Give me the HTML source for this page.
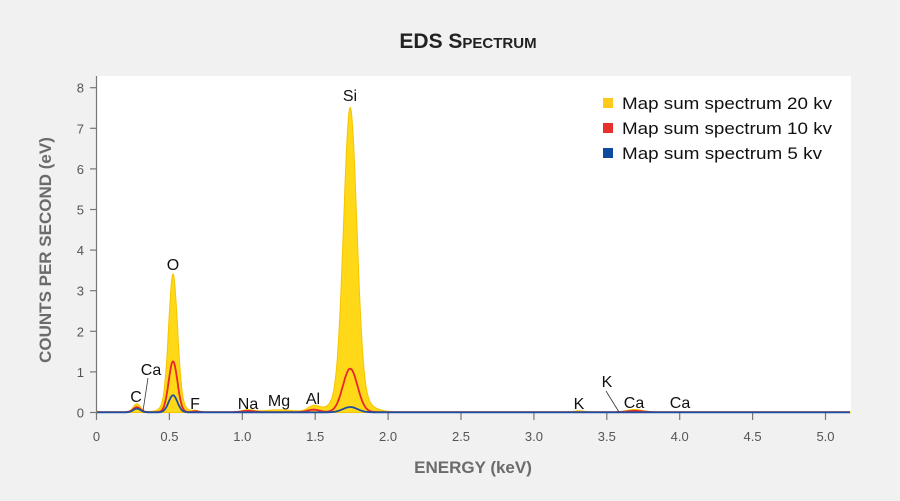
<!DOCTYPE html>
<html><head><meta charset="utf-8"><style>
body{margin:0;background:#f1f1f2;}
svg{display:block;font-family:"Liberation Sans",sans-serif;}
</style></head><body>
<svg id="s" width="900" height="501" viewBox="0 0 900 501">
<rect width="900" height="501" fill="#f1f1f2"/>
<rect x="97" y="76" width="754" height="337" fill="#fff"/>
<text x="468" y="48" text-anchor="middle" font-size="21" font-weight="bold" fill="#222" style="font-variant:small-caps">EDS Spectrum</text>
<text transform="translate(51,250) rotate(-90)" text-anchor="middle" font-size="17" font-weight="bold" fill="#6b6b6b">COUNTS PER SECOND (eV)</text>
<text x="473" y="473" text-anchor="middle" font-size="17" font-weight="bold" fill="#6b6b6b">ENERGY (keV)</text>
<g id="ax" stroke="#777" stroke-width="1.2" fill="none"></g>
<g id="tl" font-size="13" fill="#555"></g>
<path id="p20" fill="#ffd917" stroke="#f5c400" stroke-width="1"/>
<path id="p10" fill="none" stroke="#e8262b" stroke-width="1.8"/>
<path id="p5" fill="none" stroke="#1f4fa0" stroke-width="1.8"/>
<g font-size="16" fill="#111">
<text x="173" y="270" text-anchor="middle">O</text>
<text x="350" y="101" text-anchor="middle">Si</text>
<text x="136" y="402" text-anchor="middle">C</text>
<text x="151" y="375" text-anchor="middle">Ca</text>
<text x="195" y="409" text-anchor="middle">F</text>
<text x="248" y="409" text-anchor="middle">Na</text>
<text x="279" y="406" text-anchor="middle">Mg</text>
<text x="313" y="404" text-anchor="middle">Al</text>
<text x="579" y="409" text-anchor="middle">K</text>
<text x="607" y="387" text-anchor="middle">K</text>
<text x="634" y="408" text-anchor="middle">Ca</text>
<text x="680" y="408" text-anchor="middle">Ca</text>
<text x="622" y="109" font-size="17" textLength="210" lengthAdjust="spacingAndGlyphs">Map sum spectrum 20 kv</text>
<text x="622" y="134" font-size="17" textLength="210" lengthAdjust="spacingAndGlyphs">Map sum spectrum 10 kv</text>
<text x="622" y="159" font-size="17" textLength="200" lengthAdjust="spacingAndGlyphs">Map sum spectrum 5 kv</text>
</g>
<line x1="148" y1="378" x2="143" y2="411" stroke="#333" stroke-width="0.8"/>
<line x1="606" y1="391" x2="619" y2="412" stroke="#333" stroke-width="0.8"/>
<rect x="603" y="98" width="10" height="10" fill="#ffc91a"/>
<rect x="603" y="123" width="10" height="10" fill="#e8312b"/>
<rect x="603" y="148" width="10" height="10" fill="#0d4aa0"/>
</svg>
<script>
var X=e=>96.5+e*145.8, Y=v=>412.5-v*40.6;
var ax=document.getElementById('ax'),tl=document.getElementById('tl'),NS='http://www.w3.org/2000/svg';
function el(p,t,a,txt){var n=document.createElementNS(NS,t);for(var k in a)n.setAttribute(k,a[k]);if(txt!=null)n.textContent=txt;p.appendChild(n);}
el(ax,'line',{x1:96.5,y1:76,x2:96.5,y2:413});
for(var i=0;i<=8;i++){var y=Y(i);el(ax,'line',{x1:90,y1:y,x2:96.5,y2:y});el(tl,'text',{x:84,y:y+5,'text-anchor':'end'},i);}
for(var i=0;i<=10;i++){var x=X(i*0.5);el(ax,'line',{x1:x,y1:413,x2:x,y2:420});el(tl,'text',{x:x,y:441,'text-anchor':'middle'},i==0?'0':(i*0.5).toFixed(1));}
function g(e,c,h,s){return h*Math.exp(-0.5*Math.pow((e-c)/s,2));}
function f20(e){return 0.015+g(e,0.277,0.2,0.025)+g(e,0.525,3.15,0.03)+g(e,0.525,0.25,0.06)+g(e,0.68,0.03,0.02)+g(e,1.04,0.05,0.04)+g(e,1.25,0.05,0.1)+g(e,1.49,0.14,0.04)+g(e,1.74,7.05,0.045)+g(e,1.74,0.45,0.1)+g(e,3.31,0.03,0.03)+g(e,3.69,0.06,0.05);}
function f10(e){return 0.01+g(e,0.277,0.12,0.025)+g(e,0.525,1.25,0.03)+g(e,0.68,0.02,0.02)+g(e,1.04,0.03,0.04)+g(e,1.49,0.06,0.04)+g(e,1.74,1.07,0.05)+g(e,3.69,0.03,0.05);}
function f5(e){return 0.005+g(e,0.277,0.09,0.025)+g(e,0.525,0.42,0.03)+g(e,1.74,0.13,0.05);}
function path(f,close){var d='';for(var e=0;e<=5.17;e+=0.004){d+=(d?'L':'M')+X(e).toFixed(1)+','+Y(f(e)).toFixed(1);}if(close)d+='L'+X(5.17)+','+Y(0)+'L'+X(0)+','+Y(0)+'Z';return d;}
document.getElementById('p20').setAttribute('d',path(f20,true));
document.getElementById('p10').setAttribute('d',path(f10));
document.getElementById('p5').setAttribute('d',path(f5));
</script>
</body></html>
